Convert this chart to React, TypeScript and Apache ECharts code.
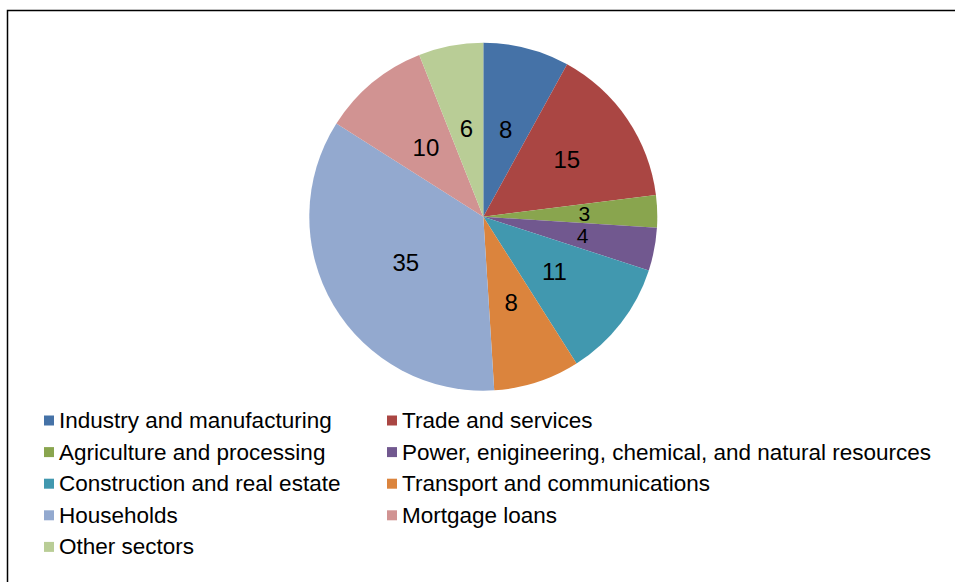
import React, { useEffect, useRef } from "react";
import * as echarts from "echarts";

const categories = [
  "Industry and manufacturing",
  "Trade and services",
  "Agriculture and processing",
  "Power, enigineering, chemical, and natural resources",
  "Construction and real estate",
  "Transport and communications",
  "Households",
  "Mortgage loans",
  "Other sectors",
];
const values = [8, 15, 3, 4, 11, 8, 35, 10, 6];
const colors = [
  "#4572A7",
  "#AA4643",
  "#89A54E",
  "#71588F",
  "#4198AF",
  "#DB843D",
  "#93A9CF",
  "#D19392",
  "#B9CD96",
];
// slices whose labels sit further out from the centre
const outerLabelIdx = [1, 2, 3];
// thin neighbouring slices whose labels are a little smaller
const smallLabelIdx = [2, 3];

const FONT = "'Liberation Sans', Arial, sans-serif";

export default function App() {
  const ref = useRef<HTMLDivElement>(null);
  useEffect(() => {
    document.body.style.margin = "0";
    if (!ref.current) return;
    const chart = echarts.init(ref.current, null, { renderer: "svg" });
    const legendCommon = {
      orient: "vertical" as const,
      top: 409,
      padding: 0,
      itemWidth: 10,
      itemHeight: 10,
      itemGap: 8.6,
      icon: "rect",
      selectedMode: false,
      textStyle: { fontFamily: FONT, fontSize: 22.5, color: "#000", lineHeight: 22 },
    };
    const labelStyle = {
      position: "inside",
      formatter: "{c}",
      color: "#000",
      fontSize: 24,
      lineHeight: 19,
      fontFamily: FONT,
    };
    chart.setOption({
      animation: false,
      color: colors,
      textStyle: { fontFamily: FONT },
      graphic: [
        {
          type: "rect",
          shape: { x: 7.5, y: 10.5, width: 1200, height: 1200 },
          style: { fill: "none", stroke: "#000", lineWidth: 1.5 },
          silent: true,
        },
      ],
      legend: [
        {
          ...legendCommon,
          left: 44,
          data: categories.filter((_, i) => i % 2 === 0),
        },
        {
          ...legendCommon,
          left: 387,
          data: categories.filter((_, i) => i % 2 === 1),
        },
      ],
      series: [
        {
          type: "pie",
          center: [483.3, 216.7],
          radius: 174,
          startAngle: 90,
          clockwise: true,
          avoidLabelOverlap: false,
          labelLayout: { hideOverlap: false },
          label: { show: true, ...labelStyle },
          labelLine: { show: false },
          emphasis: { disabled: true },
          data: categories.map((name, i) => ({
            name,
            value: values[i],
            label: { show: !outerLabelIdx.includes(i) },
          })),
        },
        {
          type: "pie",
          center: [483.3, 216.7],
          radius: [22, 174],
          startAngle: 90,
          clockwise: true,
          silent: true,
          avoidLabelOverlap: false,
          labelLayout: { hideOverlap: false },
          label: { show: true, ...labelStyle },
          labelLine: { show: false },
          emphasis: { disabled: true },
          itemStyle: { color: "rgba(0,0,0,0)" },
          data: categories.map((name, i) => ({
            name,
            value: values[i],
            label: smallLabelIdx.includes(i)
              ? { show: true, fontSize: 21, lineHeight: 18 }
              : { show: outerLabelIdx.includes(i) },
          })),
        },
      ],
    });
    return () => chart.dispose();
  }, []);
  return <div ref={ref} style={{ width: 955, height: 582 }} />;
}
